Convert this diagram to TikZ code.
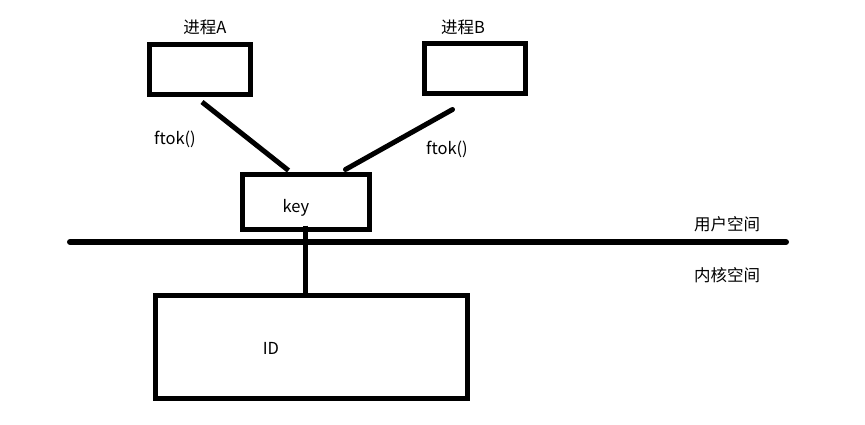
\documentclass[tikz,border=0pt]{standalone}
\usepackage{fontspec}
\setmainfont{Noto Sans CJK SC}
\usetikzlibrary{positioning,calc}
\tikzset{
  procbox/.style={draw, line width=5pt, inner sep=0pt, minimum width=101pt, minimum height=50pt},
  wire/.style={line width=5pt},
  txt/.style={inner sep=0pt, font=\fontsize{16.5}{19}\selectfont}
}

\begin{document}
\begin{tikzpicture}[x=1pt, y=-1pt]
        \useasboundingbox (0,0) rectangle (865,425);
        \node[procbox] (pA) at (200,69.5) {}; %process A
        \node[procbox] (pB) at (474.5,69) {}; %process B
        \node[procbox, minimum width=127pt, minimum height=54pt] (key) at (305.5,202) {};
        \node[procbox, minimum width=312pt, minimum height=103pt] (idbox) at (311,346.5) {};

        \node[txt] (lA) at (205,27) {进程A};
        \node[txt] (lB) at (463,27) {进程B};
        \node[txt] (fA) at (175,139) {ftok()};
        \node[txt] (fB) at (447,149) {ftok()};
        \node[txt] (lkey) at (296,208) {key};
        \node[txt] (lid) at (271,348) {ID};
        \node[txt] (user) at (727,224) {用户空间};
        \node[txt] (kern) at (727,275) {内核空间};

        \coordinate (left) at (70,242);
        \coordinate (right) at (786,242);
        \draw[line width=6pt, line cap=round] (left) -- (right); % user / kernel border

        \draw[wire] ($(pA.south)+(2,5)$) -- ($(key.north)+(-17,-2)$);
        \draw[wire, line cap=round] ($(pB.south)+(-22,13)$) -- ($(key.north)+(40,-3)$);
        \draw[wire] ($(key.south)+(0,-6)$) -- ($(key.south |- idbox.north)+(0,5)$);
      \end{tikzpicture}
\end{document}
